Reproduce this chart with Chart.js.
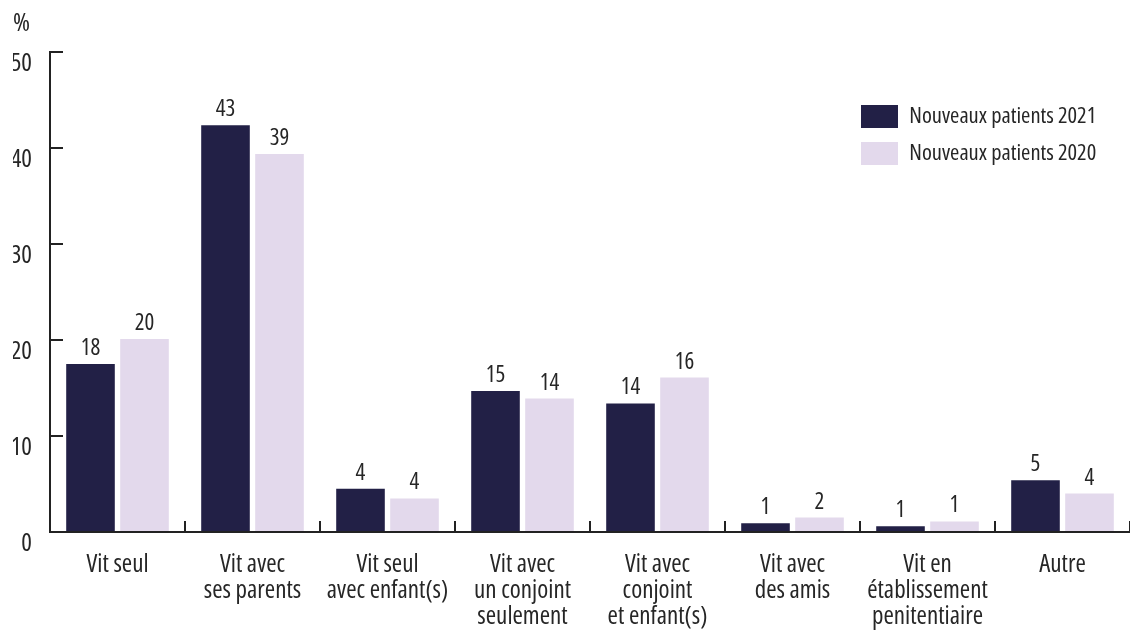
<!DOCTYPE html>
<html>
<head>
<meta charset="utf-8">
<script src="https://cdn.jsdelivr.net/npm/chart.js@4.4.1/dist/chart.umd.min.js"></script>
<style>
  html, body { margin: 0; padding: 0; background: #fff; }
  #wrap { width: 1130px; height: 633px; }
</style>
</head>
<body>
<div id="wrap"><canvas id="chart"></canvas></div>
<script>
// Open Sans in its condensed width; weight + "condensed" go in the weight slot of the font string
const FAMILY = "'Open Sans', 'DejaVu Sans Condensed', sans-serif";
const STRETCH = "500 condensed";
const TEXT = "#262626";

const categories = [
  ["Vit seul"],
  ["Vit avec", "ses parents"],
  ["Vit seul", "avec enfant(s)"],
  ["Vit avec", "un conjoint", "seulement"],
  ["Vit avec", "conjoint", "et enfant(s)"],
  ["Vit avec", "des amis"],
  ["Vit en", "établissement", "penitentiaire"],
  ["Autre"],
];

// series values (%)
const patients2021 = [17.5, 42.4, 4.5, 14.7, 13.4, 0.9, 0.6, 5.4];
const patients2020 = [20.1, 39.4, 3.5, 13.9, 16.1, 1.5, 1.1, 4.0];

// printed value labels above bars
const labels2021 = ["18", "43", "4", "15", "14", "1", "1", "5"];
const labels2020 = ["20", "39", "4", "14", "16", "2", "1", "4"];

const yTicks = [0, 10, 20, 30, 40, 50];

// draws the printed values above each bar
const valueLabels = {
  id: "valueLabels",
  afterDatasetsDraw(chart) {
    const ctx = chart.ctx;
    ctx.save();
    ctx.font = STRETCH + " 23px " + FAMILY;
    ctx.fillStyle = TEXT;
    ctx.textAlign = "center";
    ctx.textBaseline = "alphabetic";
    chart.data.datasets.forEach((ds, i) => {
      const meta = chart.getDatasetMeta(i);
      meta.data.forEach((bar, j) => {
        ctx.fillText(ds.valueLabels[j], bar.x, bar.y - 9);
      });
    });
    ctx.restore();
  },
};

// moves the legend into the upper right part of the plot
const legendPlace = {
  id: "legendPlace",
  afterLayout(chart) {
    const lg = chart.legend;
    lg.left = 847;
    lg.top = 91;
  },
};

const ctx = document.getElementById("chart").getContext("2d");
const chart = new Chart(ctx, {
  type: "bar",
  data: {
    labels: categories,
    datasets: [
      {
        label: "Nouveaux patients 2021",
        data: patients2021,
        valueLabels: labels2021,
        backgroundColor: "#222046",
        categoryPercentage: 0.8,
        barPercentage: 0.9,
      },
      {
        label: "Nouveaux patients 2020",
        data: patients2020,
        valueLabels: labels2020,
        backgroundColor: "#e3d9ec",
        categoryPercentage: 0.8,
        barPercentage: 0.9,
      },
    ],
  },
  options: {
    responsive: true,
    maintainAspectRatio: false,
    animation: false,
    layout: { padding: { left: 13, right: 0, top: 0, bottom: 3 } },
    plugins: {
      title: {
        display: true,
        text: "%",
        align: "start",
        color: TEXT,
        font: { family: FAMILY, size: 26, weight: STRETCH, lineHeight: 1.2 },
        padding: { top: 8, bottom: 13 },
      },
      legend: {
        position: "chartArea",
        align: "start",
        labels: {
          color: TEXT,
          font: { family: FAMILY, size: 22.5, weight: STRETCH },
          boxWidth: 37,
          boxHeight: 23,
          padding: 14,
        },
      },
      tooltip: { enabled: false },
    },
    scales: {
      x: {
        afterFit(scale) { scale.height = 98; },
        border: { display: true, color: "#222", width: 2 },
        grid: {
          display: true,
          drawOnChartArea: false,
          drawTicks: true,
          tickLength: -11,
          color: "#222",
          lineWidth: 2,
          offset: true,
        },
        ticks: {
          color: TEXT,
          font: { family: FAMILY, size: 25, weight: STRETCH, lineHeight: 1.04 },
          padding: 31,
          maxRotation: 0,
          autoSkip: false,
        },
      },
      y: {
        min: 0,
        max: 50,
        afterFit(scale) { scale.width = 37; },
        afterBuildTicks(scale) { scale.ticks = yTicks.map((v) => ({ value: v })); },
        border: { display: true, color: "#222", width: 2 },
        grid: {
          display: true,
          drawOnChartArea: false,
          drawTicks: true,
          tickLength: -13,
          color: "#222",
          lineWidth: 2,
        },
        ticks: {
          color: TEXT,
          font: { family: FAMILY, size: 25, weight: STRETCH },
          padding: 31,
          labelOffset: 12,
        },
      },
    },
  },
  plugins: [valueLabels, legendPlace],
});
</script>
</body>
</html>
